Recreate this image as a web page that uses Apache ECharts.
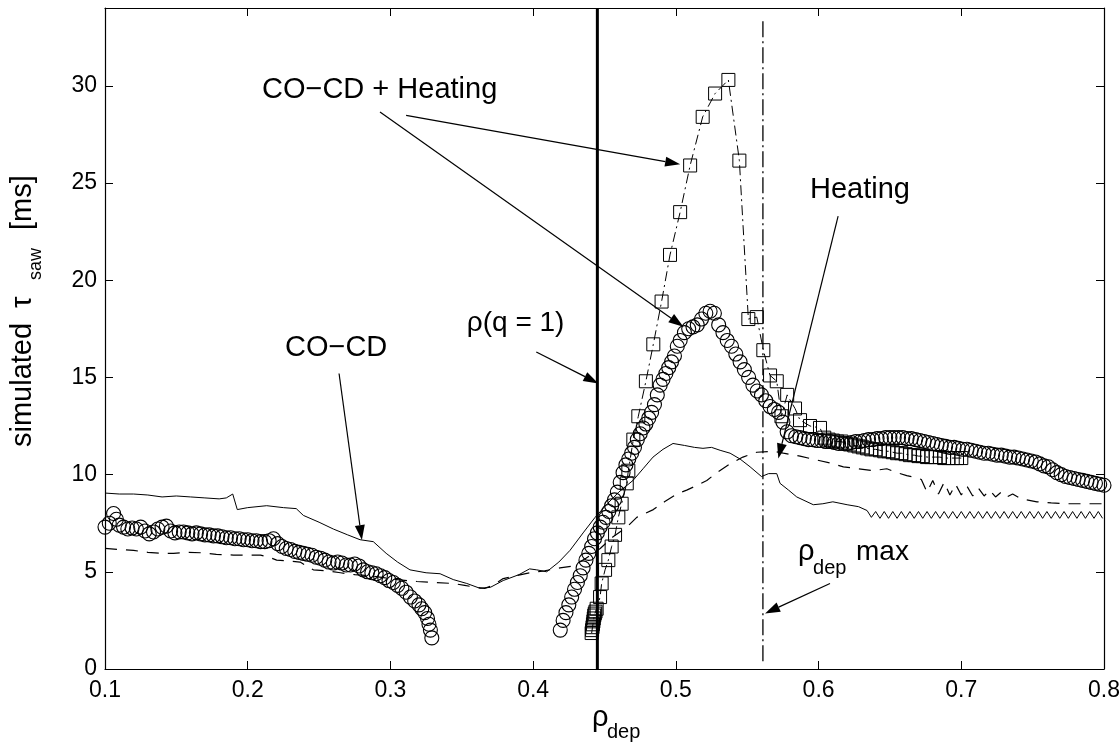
<!DOCTYPE html>
<html>
<head>
<meta charset="utf-8">
<title>simulated tau_saw vs rho_dep</title>
<script src="https://cdn.jsdelivr.net/npm/echarts/dist/echarts.min.js"></script>
<style>
html,body{margin:0;padding:0;background:#fff;}
#main{width:1120px;height:747px;}
</style>
</head>
<body>
<div id="main"></div>
<script>
// axis ticks
var xTicks = [0.1, 0.2, 0.3, 0.4, 0.5, 0.6, 0.7, 0.8];
var yTicks = [0, 5, 10, 15, 20, 25, 30];
var yTop = 34;

// thin solid curve (CO-CD)
var solidLine = [
  [0.100,9.05],[0.110,9.0],[0.120,9.0],[0.130,8.95],[0.140,8.85],[0.150,8.9],[0.160,8.85],[0.170,8.8],
  [0.180,8.75],[0.185,8.8],[0.1895,9.0],[0.1927,8.2],[0.200,8.3],[0.2133,8.4],[0.225,8.3],[0.234,8.25],
  [0.239,7.9],[0.250,7.55],[0.260,7.2],[0.270,6.9],[0.2787,6.65],[0.288,6.55],[0.297,5.95],[0.305,5.5],
  [0.3137,5.1],[0.325,4.95],[0.3348,4.9],[0.344,4.6],[0.3535,4.4],[0.3628,4.15],[0.370,4.2],[0.379,4.55],
  [0.390,4.85],[0.3975,5.15],[0.4025,5.1],[0.4095,5.0],[0.418,5.5],[0.4258,6.1],[0.435,7.0],[0.4434,7.8],
  [0.452,8.5],[0.460,9.1],[0.470,9.7],[0.477,10.3],[0.484,10.9],[0.491,11.3],[0.498,11.6],[0.506,11.5],
  [0.513,11.4],[0.519,11.35],[0.525,11.4],[0.531,11.25],[0.538,11.1],[0.545,10.8],[0.552,10.4],[0.560,9.9],
  [0.565,10.05],[0.5707,10.05],[0.573,9.55],[0.579,9.2],[0.5847,8.85],[0.5963,8.45],[0.603,8.5],[0.610,8.6],
  [0.620,8.45],[0.628,8.35],[0.634,8.15],
  [0.637,7.8],[0.640,8.1],[0.643,7.75],[0.646,8.1],[0.649,7.75],[0.652,8.1],[0.655,7.75],[0.658,8.1],
  [0.661,7.75],[0.664,8.1],[0.667,7.75],[0.670,8.1],[0.673,7.75],[0.676,8.1],[0.679,7.75],[0.682,8.1],
  [0.685,7.75],[0.688,8.1],[0.691,7.75],[0.694,8.1],[0.697,7.75],[0.700,8.1],[0.703,7.75],[0.706,8.1],
  [0.709,7.75],[0.712,8.1],[0.715,7.75],[0.718,8.1],[0.721,7.75],[0.724,8.1],[0.727,7.75],[0.730,8.1],
  [0.733,7.75],[0.736,8.1],[0.739,7.75],[0.742,8.1],[0.745,7.75],[0.748,8.1],[0.751,7.75],[0.754,8.1],
  [0.757,7.75],[0.760,8.1],[0.763,7.75],[0.766,8.1],[0.769,7.75],[0.772,8.1],[0.775,7.75],[0.778,8.1],
  [0.781,7.75],[0.784,8.1],[0.787,7.75],[0.790,8.1],[0.793,7.75],[0.796,8.1],[0.799,7.75]
];

// dashed curve (Heating)
var dashedLine = [
  [0.100,6.2],[0.110,6.15],[0.120,6.1],[0.130,6.0],[0.140,5.95],[0.148,5.95],[0.157,6.0],[0.167,5.98],
  [0.178,5.9],[0.190,5.86],[0.200,5.85],[0.209,5.86],[0.215,5.75],[0.2203,5.6],[0.229,5.55],[0.2367,5.5],
  [0.246,5.1],[0.255,5.05],[0.265,4.95],[0.275,4.85],[0.285,4.8],[0.295,4.7],[0.305,4.6],[0.3184,4.5],
  [0.330,4.45],[0.344,4.4],[0.352,4.3],[0.360,4.2],[0.366,4.15],[0.372,4.3],[0.379,4.65],[0.388,4.8],
  [0.3978,4.95],[0.408,5.05],[0.4188,5.2],[0.428,5.3],[0.437,5.7],[0.447,6.2],[0.456,6.8],[0.4656,7.3],
  [0.4726,7.8],[0.4842,8.2],[0.492,8.6],[0.5006,9.0],[0.5076,9.2],[0.515,9.45],[0.5217,9.7],[0.5287,10.1],
  [0.538,10.55],[0.547,10.9],[0.5567,11.15],[0.5683,11.2],[0.5753,11.1],[0.587,10.95],[0.5987,10.75],[0.608,10.6],
  [0.6174,10.4],[0.628,10.3],[0.6384,10.2],[0.6478,10.3],[0.655,10.1],[0.6618,9.95],[0.668,9.85],
  [0.672,9.75],[0.676,9.1],[0.680,9.7],[0.684,9.0],[0.688,9.6],[0.692,8.95],[0.696,9.5],[0.700,8.95],
  [0.704,9.4],[0.708,8.9],[0.712,9.3],[0.716,8.9],[0.720,9.2],[0.724,8.85],[0.728,9.1],[0.732,8.85],
  [0.736,9.0],[0.742,8.75],[0.753,8.6],[0.763,8.55],[0.774,8.5],[0.786,8.5],[0.800,8.5]
];

// circles, CO-CD + Heating (lower peak)
var circlesLeft = [
  [0.100,7.3],[0.103,7.5],[0.106,8.0],[0.108,7.7],[0.110,7.4],[0.113,7.3],[0.116,7.2],[0.119,7.25],
  [0.122,7.2],[0.125,7.3],[0.128,7.1],[0.131,6.95],[0.134,7.05],[0.137,7.2],[0.140,7.3],[0.143,7.35],
  [0.146,7.1],[0.149,7.0],[0.152,7.05],[0.155,7.05],[0.158,7.0],[0.161,6.95],[0.164,7.0],[0.167,6.95],
  [0.170,6.9],[0.173,6.9],[0.176,6.85],[0.179,6.85],[0.182,6.8],[0.185,6.75],[0.188,6.75],[0.191,6.7],
  [0.194,6.7],[0.197,6.65],[0.200,6.65],[0.203,6.6],[0.206,6.6],[0.209,6.55],[0.212,6.55],[0.215,6.6],
  [0.218,6.7],[0.221,6.45],[0.224,6.3],[0.227,6.2],[0.230,6.15],[0.233,6.05],[0.236,6.0],[0.239,5.95],
  [0.242,5.9],[0.245,5.85],[0.248,5.75],[0.251,5.7],[0.254,5.6],[0.257,5.5],[0.260,5.45],[0.263,5.5],
  [0.266,5.45],[0.269,5.35],[0.272,5.35],[0.275,5.4],[0.278,5.3],[0.281,5.1],[0.284,5.0],[0.287,4.95],
  [0.290,4.9],[0.293,4.8],[0.296,4.7],[0.299,4.55],[0.302,4.45],[0.305,4.3],[0.308,4.15],[0.311,3.95],
  [0.314,3.7],[0.317,3.5],[0.320,3.3],[0.322,3.1],[0.324,2.9],[0.326,2.6],[0.327,2.3],[0.328,2.0],[0.329,1.6]
];
var circlesRight = [
  [0.419,2.0],[0.421,2.5],[0.423,2.9],[0.425,3.3],[0.427,3.7],[0.429,4.1],[0.431,4.45],[0.433,4.8],
  [0.435,5.2],[0.437,5.6],[0.439,5.95],[0.441,6.3],[0.443,6.7],[0.445,7.0],[0.447,7.3],[0.449,7.55],
  [0.451,7.8],[0.453,8.1],[0.455,8.4],[0.457,8.7],[0.459,9.1],[0.461,9.6],[0.463,10.1],[0.465,10.5],
  [0.467,10.8],[0.469,11.1],[0.471,11.4],[0.473,11.8],[0.475,12.1],[0.477,12.4],[0.479,12.6],[0.481,12.9],
  [0.483,13.2],[0.485,13.6],[0.487,14.1],[0.489,14.6],[0.491,14.9],[0.493,15.2],[0.495,15.5],[0.497,15.8],
  [0.499,16.1],[0.501,16.6],[0.503,16.9],[0.506,17.3],[0.509,17.5],[0.512,17.6],[0.515,17.7],[0.518,18.0],
  [0.521,18.3],[0.524,18.4],[0.527,18.3],[0.530,17.7],[0.533,17.3],[0.536,16.9],[0.539,16.6],[0.542,16.2],
  [0.545,15.8],[0.548,15.4],[0.551,15.0],[0.554,14.6],[0.557,14.3],[0.560,14.1],[0.563,13.8],[0.566,13.5],
  [0.569,13.35],[0.572,13.2],[0.575,12.7],[0.578,12.2],[0.581,12.0],[0.584,11.95],[0.587,11.9],[0.590,11.85],
  [0.593,11.8],[0.596,11.8],[0.599,11.75],[0.602,11.75],[0.605,11.7],[0.608,11.7],[0.611,11.65],[0.614,11.6],
  [0.617,11.6],[0.620,11.6],[0.623,11.65],[0.626,11.7],[0.629,11.7],[0.632,11.75],[0.635,11.8],[0.638,11.8],
  [0.641,11.85],[0.644,11.85],[0.647,11.9],[0.650,11.9],[0.653,11.9],[0.656,11.9],[0.659,11.9],[0.662,11.85],
  [0.665,11.85],[0.668,11.8],[0.671,11.75],[0.674,11.7],[0.677,11.65],[0.680,11.6],[0.683,11.55],[0.686,11.5],
  [0.689,11.45],[0.692,11.4],[0.695,11.4],[0.698,11.35],[0.701,11.3],[0.704,11.3],[0.707,11.25],[0.710,11.2],
  [0.713,11.15],[0.716,11.1],[0.719,11.1],[0.722,11.05],[0.725,11.0],[0.728,11.0],[0.731,10.95],[0.734,10.9],
  [0.737,10.9],[0.740,10.85],[0.743,10.8],[0.746,10.75],[0.749,10.7],[0.752,10.65],[0.755,10.55],[0.758,10.45],
  [0.761,10.4],[0.764,10.25],[0.767,10.1],[0.770,10.0],[0.773,9.9],[0.776,9.85],[0.779,9.8],[0.782,9.75],
  [0.785,9.7],[0.788,9.65],[0.791,9.6],[0.794,9.55],[0.797,9.5],[0.800,9.45]
];

// squares joined by dash-dot line, CO-CD + Heating (high peak)
var squares = [
  [0.4410,1.85],[0.4413,2.0],[0.4416,2.15],[0.4419,2.3],[0.4422,2.45],[0.4425,2.6],[0.4428,2.75],[0.4432,2.85],
  [0.4437,2.95],[0.4445,3.1],[0.4469,3.7],[0.448,4.4],[0.4504,5.1],[0.4527,5.6],[0.455,6.3],[0.4574,6.9],
  [0.4597,7.8],[0.462,8.5],[0.4656,9.55],[0.4667,10.2],[0.4702,11.8],[0.4737,13.0],[0.479,14.8],[0.4842,16.7],
  [0.490,18.9],[0.4959,21.3],[0.503,23.5],[0.510,25.9],[0.5188,28.4],[0.5275,29.6],[0.5368,30.3],[0.5445,26.15],
  [0.5508,18.0],[0.5567,18.1],[0.5613,16.4],[0.566,15.1],[0.5707,14.8],[0.574,13.0],[0.578,14.1],[0.5835,13.4],
  [0.587,12.8],[0.594,12.5],[0.601,12.4],[0.604,11.9],[0.607,11.8],[0.610,11.75],[0.613,11.7],[0.616,11.7],
  [0.619,11.6],[0.622,11.55],[0.625,11.5],[0.628,11.45],[0.631,11.4],[0.634,11.35],[0.637,11.3],[0.640,11.3],
  [0.643,11.25],[0.646,11.2],[0.649,11.2],[0.652,11.15],[0.655,11.1],[0.658,11.1],[0.661,11.05],[0.664,11.0],
  [0.667,11.0],[0.670,10.95],[0.673,10.95],[0.676,10.9],[0.679,10.9],[0.682,10.9],[0.685,10.9],[0.688,10.85],
  [0.691,10.85],[0.694,10.85],[0.697,10.85],[0.700,10.85]
];

// vertical markers
var rhoQ1 = 0.445;          // rho(q=1)
var rhoDepMax = 0.561;      // rho_dep max
var rhoDepMaxSpan = [0.4, 33.4];

// annotation arrows [x1,y1,x2,y2] (tail -> tip)
var arrows = [
  [0.311, 28.48, 0.503, 25.96],
  [0.2927, 28.65, 0.5053, 17.6],
  [0.6137, 23.3, 0.5718, 10.83],
  [0.264, 15.2, 0.28, 6.63],
  [0.4022, 16.31, 0.4457, 14.69],
  [0.608, 4.4, 0.5625, 2.86]
];

var FONT = '"Liberation Sans", Arial, Helvetica, sans-serif';
var chart = echarts.init(document.getElementById('main'));

function boxAxis(pos, isX, showLabel) {
  var a = {
    type: 'value',
    position: pos,
    min: isX ? xTicks[0] : 0,
    max: isX ? xTicks[xTicks.length - 1] : yTop,
    interval: isX ? 0.1 : 5,
    axisLine: {show: true, onZero: false, lineStyle: {color: '#000', width: 1.2}},
    axisTick: {show: true, inside: true, length: 8, lineStyle: {color: '#000', width: 1}},
    splitLine: {show: false},
    axisLabel: {
      show: showLabel, color: '#000', fontSize: 23, fontFamily: FONT,
      margin: isX ? 10 : 8, showMinLabel: true, showMaxLabel: isX
    }
  };
  return a;
}

var option = {
  animation: false,
  backgroundColor: '#fff',
  textStyle: {fontFamily: FONT},
  grid: {left: 105, right: 16, top: 8, bottom: 78, containLabel: false, outerBoundsMode: 'none'},
  xAxis: [boxAxis('bottom', true, true), boxAxis('top', true, false)],
  yAxis: [boxAxis('left', false, true), boxAxis('right', false, false)],
  series: [
    {
      name: 'CO-CD', type: 'line', data: solidLine, symbol: 'none', smooth: false,
      lineStyle: {color: '#000', width: 1, type: 'solid'}, z: 3
    },
    {
      name: 'Heating', type: 'line', data: dashedLine, symbol: 'none',
      lineStyle: {color: '#000', width: 1.2, type: [12, 9]}, z: 3
    },
    {
      name: 'CO-CD + Heating (o)', type: 'scatter', data: circlesLeft.concat(circlesRight),
      symbol: 'circle', symbolSize: 14,
      itemStyle: {color: 'rgba(0,0,0,0)', borderColor: '#000', borderWidth: 1.1, opacity: 1}, z: 4
    },
    {
      name: 'CO-CD + Heating (sq)', type: 'line', data: squares,
      symbol: 'rect', symbolSize: 13, showSymbol: true, showAllSymbol: true,
      itemStyle: {color: 'rgba(0,0,0,0)', borderColor: '#000', borderWidth: 1},
      lineStyle: {color: '#000', width: 1, type: [10, 4, 2, 4]}, z: 4
    },
    {
      name: 'rho(q=1)', type: 'line', data: [[rhoQ1, 0], [rhoQ1, yTop]], symbol: 'none',
      lineStyle: {color: '#000', width: 3}, z: 5
    },
    {
      name: 'rho_dep max', type: 'line', data: [[rhoDepMax, rhoDepMaxSpan[0]], [rhoDepMax, rhoDepMaxSpan[1]]],
      symbol: 'none', lineStyle: {color: '#000', width: 1.3, type: [16, 4, 2, 4]}, z: 5
    }
  ]
};
chart.setOption(option);

// annotations, anchored in data coords
function toPx(x, y) { return chart.convertToPixel({gridIndex: 0}, [x, y]); }

function txt(x, y, s, size) {
  return {type: 'text', x: x, y: y, silent: true, z: 100,
    style: {text: s, fontSize: size, fontFamily: FONT, fill: '#000', align: 'left', verticalAlign: 'middle'}};
}

function arrowEls(a) {
  var p1 = toPx(a[0], a[1]), p2 = toPx(a[2], a[3]);
  var dx = p2[0] - p1[0], dy = p2[1] - p1[1];
  var len = Math.sqrt(dx * dx + dy * dy);
  var ux = dx / len, uy = dy / len;
  var hl = 15, hw = 5;
  var bx = p2[0] - ux * hl, by = p2[1] - uy * hl;
  return [
    {type: 'line', silent: true, z: 100, shape: {x1: p1[0], y1: p1[1], x2: bx, y2: by},
      style: {stroke: '#000', lineWidth: 1.2}},
    {type: 'polygon', silent: true, z: 100,
      shape: {points: [[p2[0], p2[1]], [bx - uy * hw, by + ux * hw], [bx + uy * hw, by - ux * hw]]},
      style: {fill: '#000'}}
  ];
}

var g = [];
arrows.forEach(function (a) { g = g.concat(arrowEls(a)); });

var p;
p = toPx(0.21, 29.78);   g.push(txt(p[0], p[1], 'CO\u2212CD + Heating', 29));
p = toPx(0.594, 24.63);  g.push(txt(p[0], p[1], 'Heating', 29));
p = toPx(0.2261, 16.5);  g.push(txt(p[0], p[1], 'CO\u2212CD', 29));
p = toPx(0.3535, 17.79); g.push(txt(p[0], p[1], '\u03c1(q = 1)', 28));
p = toPx(0.5856, 6.02);
g.push(txt(p[0], p[1], '\u03c1', 29));
g.push(txt(p[0] + 15, p[1] + 17, 'dep', 20));
g.push(txt(p[0] + 58, p[1], 'max', 28));

// axis titles
g.push(txt(592, 718, '\u03c1', 29));
g.push(txt(607, 732, 'dep', 20));
g.push({
  type: 'group', x: 33, y: 447, rotation: Math.PI / 2, silent: true,
  children: [
    txt(0, -10, 'simulated', 29),
    txt(139, -10, '\u03c4', 29),
    txt(167, 3, 'saw', 18),
    txt(217, -10, '[ms]', 29)
  ]
});

chart.setOption({graphic: g});
</script>
</body>
</html>
